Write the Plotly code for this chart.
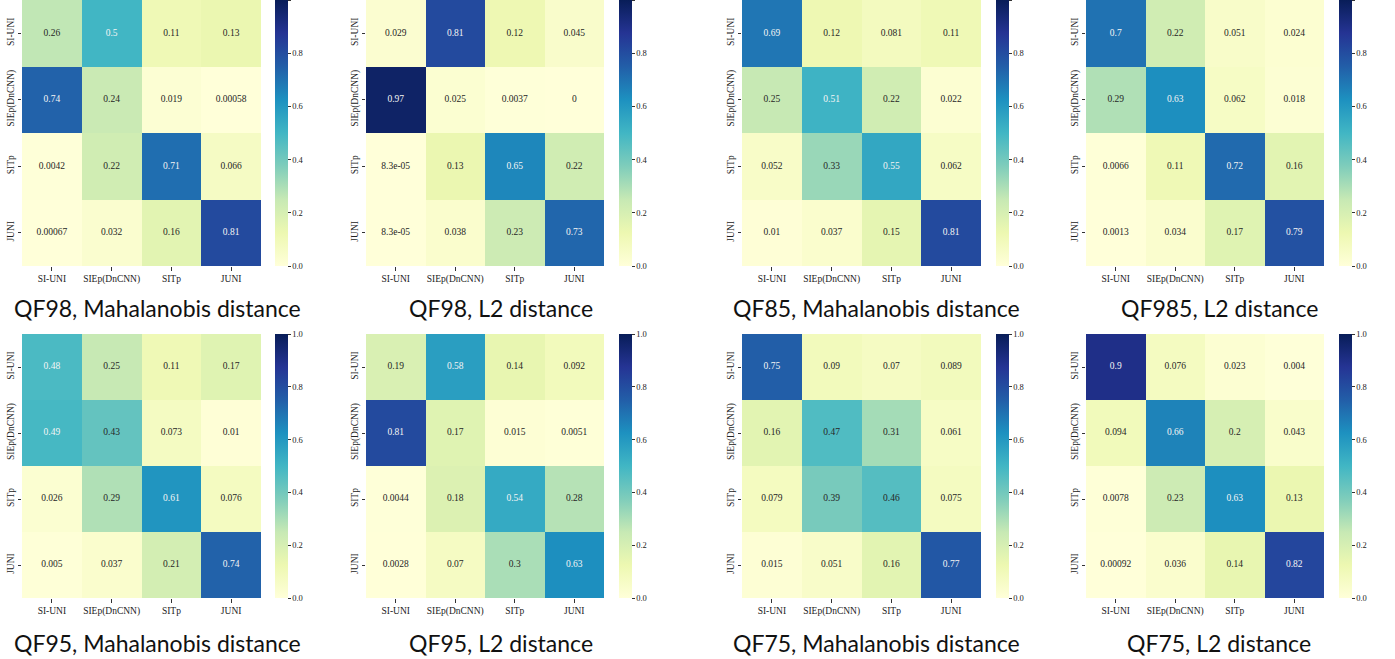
import plotly.graph_objects as go

labels = ["SI-UNI", "SIEp(DnCNN)", "SITp", "JUNI"]

titles = [
    "QF98, Mahalanobis distance", "QF98, L2 distance",
    "QF85, Mahalanobis distance", "QF985, L2 distance",
    "QF95, Mahalanobis distance", "QF95, L2 distance",
    "QF75, Mahalanobis distance", "QF75, L2 distance",
]

qf98_maha = [[0.26, 0.5, 0.11, 0.13], [0.74, 0.24, 0.019, 0.00058],
             [0.0042, 0.22, 0.71, 0.066], [0.00067, 0.032, 0.16, 0.81]]
qf98_l2 = [[0.029, 0.81, 0.12, 0.045], [0.97, 0.025, 0.0037, 0],
           [8.3e-05, 0.13, 0.65, 0.22], [8.3e-05, 0.038, 0.23, 0.73]]
qf85_maha = [[0.69, 0.12, 0.081, 0.11], [0.25, 0.51, 0.22, 0.022],
             [0.052, 0.33, 0.55, 0.062], [0.01, 0.037, 0.15, 0.81]]
qf985_l2 = [[0.7, 0.22, 0.051, 0.024], [0.29, 0.63, 0.062, 0.018],
            [0.0066, 0.11, 0.72, 0.16], [0.0013, 0.034, 0.17, 0.79]]
qf95_maha = [[0.48, 0.25, 0.11, 0.17], [0.49, 0.43, 0.073, 0.01],
             [0.026, 0.29, 0.61, 0.076], [0.005, 0.037, 0.21, 0.74]]
qf95_l2 = [[0.19, 0.58, 0.14, 0.092], [0.81, 0.17, 0.015, 0.0051],
           [0.0044, 0.18, 0.54, 0.28], [0.0028, 0.07, 0.3, 0.63]]
qf75_maha = [[0.75, 0.09, 0.07, 0.089], [0.16, 0.47, 0.31, 0.061],
             [0.079, 0.39, 0.46, 0.075], [0.015, 0.051, 0.16, 0.77]]
qf75_l2 = [[0.9, 0.076, 0.023, 0.004], [0.094, 0.66, 0.2, 0.043],
           [0.0078, 0.23, 0.63, 0.13], [0.00092, 0.036, 0.14, 0.82]]

matrices = [qf98_maha, qf98_l2, qf85_maha, qf985_l2,
            qf95_maha, qf95_l2, qf75_maha, qf75_l2]

W, H = 1395, 659
# pixel layout: (heatmap x0, x1, colorbar x0)
cols_px = [(22, 261, 275), (366, 604, 619), (742, 981, 996), (1086, 1324, 1339)]
rows_px = [(0, 266), (334, 598)]
title_cx = [157, 501, 876, 1219]
title_cy = [308, 643]

ylgnbu = ['#ffffd9', '#edf8b1', '#c7e9b4', '#7fcdbb', '#41b6c4',
          '#1d91c0', '#225ea8', '#253494', '#081d58']
cscale = [[i / 8, c] for i, c in enumerate(ylgnbu)]

serif = "Liberation Serif"
fig = go.Figure()
layout_axes = {}

for k, m in enumerate(matrices):
    r, c = divmod(k, 4)
    x0, x1, cbx = cols_px[c]
    y0, y1 = rows_px[r]
    ax = "" if k == 0 else str(k + 1)
    xref, yref = "x" + ax, "y" + ax
    fig.add_trace(go.Heatmap(
        z=m, x=labels, y=labels, xaxis=xref, yaxis=yref,
        colorscale=cscale, zmin=0, zmax=1, showscale=True,
        hoverongaps=False,
        colorbar=dict(
            x=cbx / W, xanchor="left", xpad=0,
            y=1 - y0 / H, yanchor="top", ypad=0,
            len=(y1 - y0) / H, lenmode="fraction",
            thickness=13, thicknessmode="pixels", outlinewidth=0,
            tickmode="array", tickvals=[0, 0.2, 0.4, 0.6, 0.8, 1.0],
            ticktext=["0.0", "0.2", "0.4", "0.6", "0.8", "1.0"],
            ticks="outside", ticklen=3, tickcolor="#333",
            tickfont=dict(family=serif, size=8.5, color="#222"),
        ),
    ))
    xs, ys, txt, cols = [], [], [], []
    for i, row in enumerate(m):
        for j, v in enumerate(row):
            xs.append(labels[j])
            ys.append(labels[i])
            txt.append(format(v, ".2g"))
            cols.append("#f5f5f5" if v >= 0.475 else "#262626")
    fig.add_trace(go.Scatter(
        x=xs, y=ys, xaxis=xref, yaxis=yref, mode="text", text=txt,
        textfont=dict(family=serif, size=9.5, color=cols),
        showlegend=False, hoverinfo="skip",
    ))
    layout_axes["xaxis" + ax] = dict(
        domain=[x0 / W, x1 / W], anchor=yref, type="category",
        showgrid=False, zeroline=False, showline=False,
        ticks="outside", ticklen=3.5, tickcolor="#333",
        tickfont=dict(family=serif, size=9.5, color="#222"),
        fixedrange=True,
    )
    layout_axes["yaxis" + ax] = dict(
        domain=[1 - y1 / H, 1 - y0 / H], anchor=xref, type="category",
        autorange="reversed", showgrid=False, zeroline=False, showline=False,
        ticks="outside", ticklen=3.5, tickcolor="#333", tickangle=-90,
        tickfont=dict(family=serif, size=9.5, color="#222"),
        fixedrange=True,
    )
    fig.add_annotation(
        x=title_cx[c] / W, y=1 - title_cy[r] / H, xref="paper", yref="paper",
        text=titles[k], showarrow=False, xanchor="center", yanchor="middle",
        font=dict(family="Lato", size=23, color="#111"),
    )

fig.update_layout(
    width=W, height=H, margin=dict(l=0, r=0, t=0, b=0),
    paper_bgcolor="white", plot_bgcolor="white", showlegend=False,
    **layout_axes,
)
fig.write_html("out.html",
               config={"displayModeBar": False},
               post_script="document.body.style.margin='0';"
                           "document.body.style.overflow='hidden';")
